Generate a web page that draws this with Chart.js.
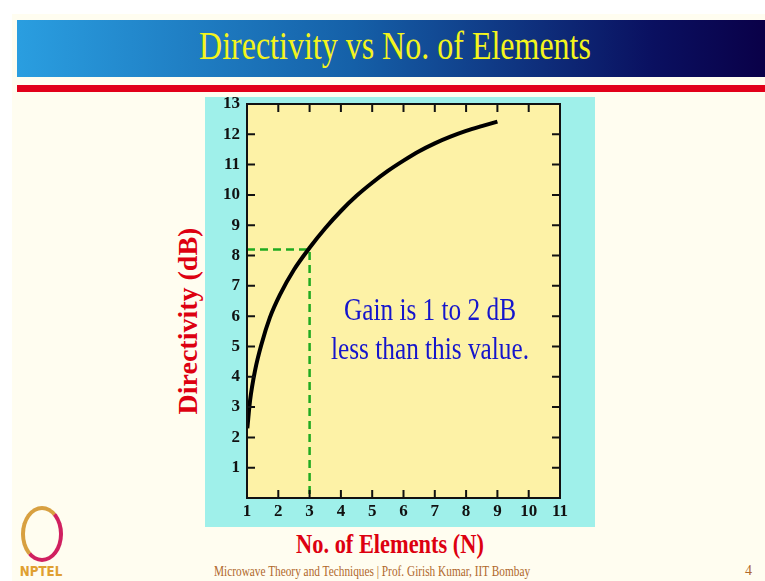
<!DOCTYPE html>
<html>
<head>
<meta charset="utf-8">
<script src="https://cdn.jsdelivr.net/npm/chart.js@4"></script>
<style>
  html, body { margin: 0; padding: 0; }
  body { width: 765px; height: 581px; background: #fff; position: relative; overflow: hidden;
         font-family: "Liberation Serif", "DejaVu Serif", serif; }
  #slide { position: absolute; left: 12px; top: 14px; width: 753px; height: 567px; background: #fffdf0; }
  #banner { position: absolute; left: 17px; top: 20px; width: 748px; height: 57px;
            background: linear-gradient(to right, #2a9ee0, #1560a8 45%, #0a1060 85%, #0a0048); }
  #title { position: absolute; left: 0; top: 22px; width: 790px; text-align: center; color: #f4f41c;
           font-size: 40px; transform: scaleX(0.8); transform-origin: 395px 0; white-space: nowrap; }
  #redbar { position: absolute; left: 17px; top: 85px; width: 748px; height: 7px; background: #e2001a; }
  #chartBox { position: absolute; left: 205px; top: 97px; width: 390px; height: 430px; background: #9ff0ea; }
  #note { position: absolute; left: 300px; top: 290px; width: 260px; text-align: center; color: #1515cc;
          font-size: 32px; line-height: 39px; transform: scaleX(0.79); transform-origin: 130px 0; white-space: nowrap; }
  #xtitle { position: absolute; left: 190px; top: 528px; width: 400px; text-align: center; color: #dd0010;
            font-weight: bold; font-size: 28px; transform: scaleX(0.8); transform-origin: 200px 0; white-space: nowrap; }
  #ytitle { position: absolute; left: 188px; top: 321px; color: #dd0010; font-weight: bold; font-size: 28px;
            white-space: nowrap; transform: translate(-50%, -50%) rotate(-90deg); }
  #footer { position: absolute; left: 170px; top: 563px; width: 400px; text-align: center; color: #b0682c;
            font-size: 14.5px; transform: scaleX(0.78); transform-origin: 200px 0; white-space: nowrap; }
  #page { position: absolute; left: 745px; top: 563px; color: #b0682c; font-size: 14px; }
  #logo { position: absolute; left: 21px; top: 506px; width: 34px; height: 48px; border-radius: 50%;
          border: 4px solid #d8a040; border-right-color: #d02060; border-bottom-color: #d02060; }
  #logoText { position: absolute; left: 16px; top: 563px; color: #e0a030; font-weight: bold; font-size: 14px;
              font-family: "DejaVu Sans", sans-serif; transform: scaleX(0.85); }
</style>
</head>
<body>
<div id="slide"></div>
<div id="banner"></div>
<div id="title">Directivity vs No. of Elements</div>
<div id="redbar"></div>
<div id="chartBox"><canvas id="chart" width="390" height="430"></canvas></div>
<div id="note">Gain is 1 to 2 dB<br>less than this value.</div>
<div id="ytitle">Directivity (dB)</div>
<div id="xtitle">No. of Elements (N)</div>
<div id="logo"></div>
<div id="logoText">NPTEL</div>
<div id="footer">Microwave Theory and Techniques | Prof. Girish Kumar, IIT Bombay</div>
<div id="page">4</div>
<script>
// curve
const elements = [1.01, 1.1, 1.26, 1.47, 1.73, 2.05, 2.5, 3.0, 3.5, 4.0, 4.5, 5.0, 5.5, 6.0, 6.5, 7.0, 7.5, 8.0, 8.5, 9.0];
const directivity = [2.3, 3.23, 4.22, 5.1, 5.95, 6.7, 7.53, 8.255, 8.9, 9.47, 9.97, 10.4, 10.79, 11.13, 11.44, 11.7, 11.92, 12.11, 12.27, 12.42];

// green marker at N = 3
const markN = [1, 3, 3];
const markD = [8.2, 8.2, 0];

const xTicks = [1, 2, 3, 4, 5, 6, 7, 8, 9, 10, 11];
const yTicks = [1, 2, 3, 4, 5, 6, 7, 8, 9, 10, 11, 12, 13];

const tickFont = { family: "Liberation Serif", weight: "bold", size: 17 };

// inward ticks on all four sides + frame
const frame = {
  id: "frame",
  beforeDatasetsDraw(chart) {
    const { ctx, chartArea: a } = chart;
    ctx.save();
    ctx.fillStyle = "#fdf2a6";
    ctx.fillRect(a.left, a.top, a.right - a.left, a.bottom - a.top);
    ctx.restore();
  },
  afterDatasetsDraw(chart) {
    const { ctx, chartArea: a, scales } = chart;
    const len = 8;
    ctx.save();
    ctx.strokeStyle = "#111";
    ctx.lineWidth = 2;
    ctx.beginPath();
    xTicks.slice(1, -1).forEach(v => {
      const px = scales.x.getPixelForValue(v);
      ctx.moveTo(px, a.bottom); ctx.lineTo(px, a.bottom - len);
      ctx.moveTo(px, a.top); ctx.lineTo(px, a.top + len);
    });
    yTicks.slice(0, -1).forEach(v => {
      const py = scales.y.getPixelForValue(v);
      ctx.moveTo(a.left, py); ctx.lineTo(a.left + len, py);
      ctx.moveTo(a.right, py); ctx.lineTo(a.right - len, py);
    });
    ctx.stroke();
    ctx.strokeRect(a.left, a.top, a.right - a.left, a.bottom - a.top);
    ctx.restore();
  }
};

new Chart(document.getElementById("chart"), {
  type: "line",
  data: {
    datasets: [
      {
        data: elements.map((n, i) => ({ x: n, y: directivity[i] })),
        borderColor: "#000",
        borderWidth: 4,
        pointRadius: 0,
        cubicInterpolationMode: "monotone"
      },
      {
        data: markN.map((n, i) => ({ x: n, y: markD[i] })),
        borderColor: "#1faa1f",
        borderWidth: 2.5,
        borderDash: [8, 5],
        pointRadius: 0,
        tension: 0
      }
    ]
  },
  plugins: [frame],
  options: {
    responsive: false,
    animation: false,
    layout: { padding: { top: 7, right: 35, left: 0, bottom: 0 } },
    plugins: { legend: { display: false }, tooltip: { enabled: false } },
    scales: {
      x: {
        type: "linear", min: 1, max: 11,
        grid: { display: false, drawTicks: false }, border: { display: false },
        afterBuildTicks: s => { s.ticks = xTicks.map(v => ({ value: v })); },
        afterFit: s => { s.height = 29; s.paddingLeft = 0; s.paddingRight = 0; },
        ticks: { color: "#111", font: tickFont, padding: 3, maxRotation: 0 }
      },
      y: {
        min: 0, max: 13,
        grid: { display: false, drawTicks: false }, border: { display: false },
        afterBuildTicks: s => { s.ticks = yTicks.map(v => ({ value: v })); },
        afterFit: s => { s.width = 42; s.paddingTop = 0; s.paddingBottom = 0; },
        ticks: { color: "#111", font: tickFont, padding: 7 }
      }
    }
  }
});
</script>
</body>
</html>
